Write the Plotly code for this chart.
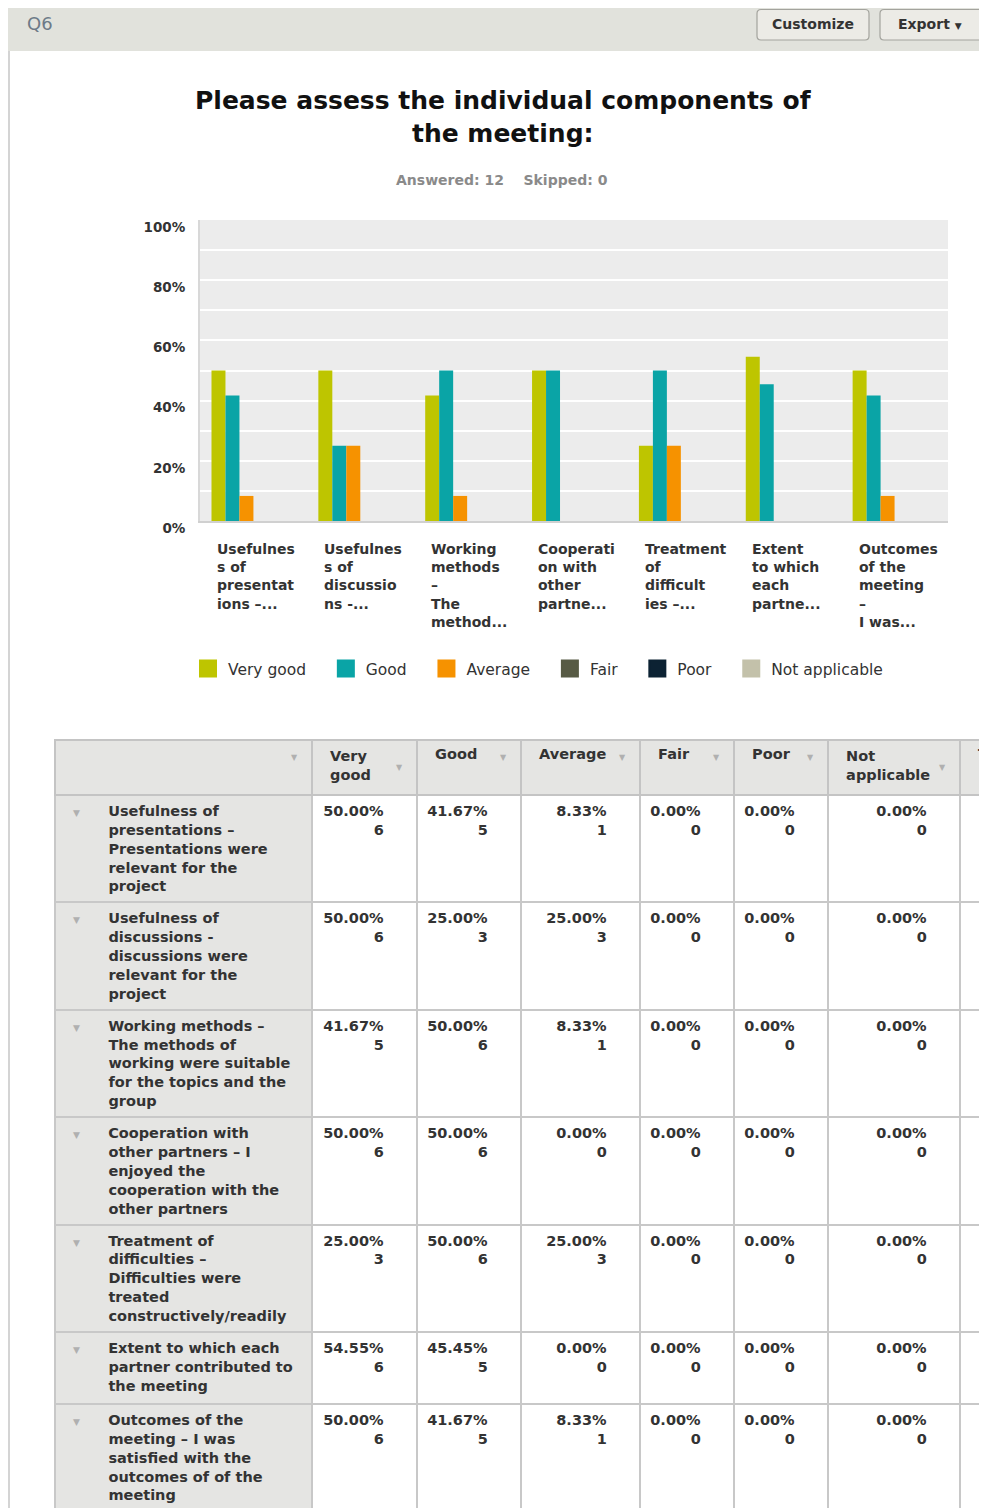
import plotly.graph_objects as go

W, H = 987, 1508
NB = "\u00a0"

# ---------------- data ----------------
categories = [
    "Usefulness of presentations",
    "Usefulness of discussions",
    "Working methods",
    "Cooperation with other partners",
    "Treatment of difficulties",
    "Extent to which each partner contributed",
    "Outcomes of the meeting",
]
category_ticktext = [
    "Usefulnes<br>s of<br>presentat<br>ions –...",
    "Usefulnes<br>s of<br>discussio<br>ns -...",
    "Working<br>methods<br>–<br>The<br>method...",
    "Cooperati<br>on with<br>other<br>partne...",
    "Treatment<br>of<br>difficult<br>ies –...",
    "Extent<br>to which<br>each<br>partne...",
    "Outcomes<br>of the<br>meeting<br>–<br>I was...",
]
series_names = ["Very good", "Good", "Average", "Fair", "Poor", "Not applicable"]

pct_very_good = [50.00, 50.00, 41.67, 50.00, 25.00, 54.55, 50.00]
pct_good = [41.67, 25.00, 50.00, 50.00, 50.00, 45.45, 41.67]
pct_average = [8.33, 25.00, 8.33, 0.00, 25.00, 0.00, 8.33]
pct_fair = [0.00, 0.00, 0.00, 0.00, 0.00, 0.00, 0.00]
pct_poor = [0.00, 0.00, 0.00, 0.00, 0.00, 0.00, 0.00]
pct_not_applicable = [0.00, 0.00, 0.00, 0.00, 0.00, 0.00, 0.00]

cnt_very_good = [6, 6, 5, 6, 3, 6, 6]
cnt_good = [5, 3, 6, 6, 6, 5, 5]
cnt_average = [1, 3, 1, 0, 3, 0, 1]
cnt_fair = [0, 0, 0, 0, 0, 0, 0]
cnt_poor = [0, 0, 0, 0, 0, 0, 0]
cnt_not_applicable = [0, 0, 0, 0, 0, 0, 0]

y_tickvals = [0, 0.2, 0.4, 0.6, 0.8, 1.0]
y_ticktext = ["0%", "20%", "40%", "60%", "80%", "100%"]

row_labels = [
    ["Usefulness of", "presentations –", "Presentations were", "relevant for the", "project"],
    ["Usefulness of", "discussions -", "discussions were", "relevant for the", "project"],
    ["Working methods –", "The methods of", "working were suitable", "for the topics and the", "group"],
    ["Cooperation with", "other partners – I", "enjoyed the", "cooperation with the", "other partners"],
    ["Treatment of", "difficulties –", "Difficulties were", "treated", "constructively/readily"],
    ["Extent to which each", "partner contributed to", "the meeting"],
    ["Outcomes of the", "meeting – I was", "satisfied with the", "outcomes of of the", "meeting"],
]
header_labels = [[""], ["Very", "good"], ["Good"], ["Average"], ["Fair"], ["Poor"], ["Not", "applicable"], ["Total"]]

answered_text = "Answered: 12"
skipped_text = "Skipped: 0"
title_text = "Please assess the individual components of<br>the meeting:"

# ---------------- styles ----------------
series_colors = ["#bec500", "#0aa4a6", "#f69200", "#575a44", "#0c2233", "#c3c1aa"]
FONT = "DejaVu Sans"
TXT = "#333333"

series_pct = [pct_very_good, pct_good, pct_average, pct_fair, pct_poor, pct_not_applicable]
series_cnt = [cnt_very_good, cnt_good, cnt_average, cnt_fair, cnt_poor, cnt_not_applicable]

# page offset of the figure inside the browser window (body margin)
OX, OY = 8, 8


def px_x(p):
    return (p - OX) / W


def px_y(p):
    return 1 - (p - OY) / H


fig = go.Figure()

for name, vals, color in zip(series_names, series_pct, series_colors):
    fig.add_trace(go.Bar(
        x=categories, y=[v / 100 for v in vals], name=name,
        marker=dict(color=color, line=dict(width=0)), showlegend=False,
    ))

# legend entries (larger square swatches)
for name, color in zip(series_names, series_colors):
    fig.add_trace(go.Scatter(
        x=[None], y=[None], mode="markers", name=name + NB * 3,
        marker=dict(symbol="square", size=16, color=color, line=dict(color=color, width=2)),
    ))

# ---------------- table ----------------
col_widths = [257, 105, 104, 119, 94, 94, 132, 27]
tbl_left, tbl_top = 55, 740

# glyph advance widths (em) for DejaVu Sans Bold, used to right-align lines
GW = {"0": 0.696, "1": 0.696, "2": 0.696, "3": 0.696, "4": 0.696, "5": 0.696,
      "6": 0.696, "7": 0.696, "8": 0.696, "9": 0.696, ".": 0.380, "%": 1.002}
NBW = 0.348


def txt_w(s):
    return sum(GW.get(ch, 0.6) for ch in s)


first_col = []
for lines in row_labels:
    first = (NB * 2 + "<span style='font-size:9px;color:#b0b0b0'>▼</span>"
             + NB * 5 + "\u2009" + lines[0])
    rest = [NB * 9 + ln for ln in lines[1:]]
    first_col.append("<br>".join([first] + rest))

pad_r = NB * 5
value_cols = []
for pcts, cnts in zip(series_pct, series_cnt):
    col = []
    for p, c in zip(pcts, cnts):
        ptxt, ctxt = f"{p:.2f}%", f"{c}"
        lead = NB * int(round((txt_w(ptxt) - txt_w(ctxt)) / NBW))
        col.append(f"{ptxt}{pad_r}<br>{lead}{ctxt}{pad_r}")
    value_cols.append(col)

header_vals = ["<br>".join(NB * 2 + ln for ln in h) for h in header_labels]
cell_vals = [first_col] + value_cols + [[""] * len(row_labels)]

GREY = "#e5e5e3"
fig.add_trace(go.Table(
    domain=dict(x=[px_x(tbl_left), px_x(tbl_left + sum(col_widths))], y=[0, px_y(tbl_top)]),
    columnwidth=col_widths,
    header=dict(
        values=header_vals, height=55, align="left",
        fill=dict(color=GREY), line=dict(color="#c4c4c4", width=2),
        font=dict(family=FONT, size=14.5, weight="bold", color=TXT),
    ),
    cells=dict(
        values=cell_vals, height=72,
        align=["left"] + ["right"] * 6 + ["left"],
        fill=dict(color=[GREY] + ["white"] * 7),
        line=dict(color="#c8c8c8", width=2),
        font=dict(family=FONT, size=14.5, weight="bold", color=TXT),
    ),
))

annotations = []
# sort arrows in header
x_acc = tbl_left
for w, h in zip(col_widths[:-1], header_labels[:-1]):
    x_acc += w
    yy = 767 if len(h) == 2 else 757
    annotations.append(dict(
        x=px_x(x_acc - 18), y=px_y(yy), xref="paper", yref="paper",
        text="▼", showarrow=False, xanchor="center", yanchor="middle",
        font=dict(family=FONT, size=8, color="#b0b0b0"),
    ))

# category labels (left-aligned, multi-line)
for cat, lab in zip(categories, category_ticktext):
    annotations.append(dict(
        x=cat, xref="x", y=px_y(539), yref="paper", text=lab, showarrow=False,
        xanchor="left", yanchor="top", align="left", xshift=-38,
        font=dict(family=FONT, size=14, weight="bold", color=TXT),
    ))

# title
annotations.append(dict(
    x=px_x(503), y=px_y(84), xref="paper", yref="paper", text=title_text,
    showarrow=False, xanchor="center", yanchor="top", align="center",
    font=dict(family=FONT, size=25, weight="bold", color="#111111"),
))
# answered / skipped
annotations.append(dict(
    x=px_x(502), y=px_y(180), xref="paper", yref="paper",
    text=answered_text + NB * 4 + skipped_text, showarrow=False,
    xanchor="center", yanchor="middle",
    font=dict(family=FONT, size=14, weight="bold", color="#8a8a8a"),
))
# header bar texts
annotations.append(dict(
    x=px_x(25), y=px_y(23), xref="paper", yref="paper", text="Q6", showarrow=False,
    xanchor="left", yanchor="middle", font=dict(family=FONT, size=18, color="#6d7a88"),
))
annotations.append(dict(
    x=px_x(813), y=px_y(24), xref="paper", yref="paper", text="Customize", showarrow=False,
    xanchor="center", yanchor="middle", font=dict(family=FONT, size=14, weight="bold", color="#333"),
))
annotations.append(dict(
    x=px_x(930), y=px_y(24), xref="paper", yref="paper",
    text="Export <span style='font-size:9px'>▼</span>", showarrow=False,
    xanchor="center", yanchor="middle", font=dict(family=FONT, size=14, weight="bold", color="#333"),
))


def rounded_rect(x0, y0, x1, y1, r):
    # screen-pixel rectangle with rounded corners, converted to paper coordinates
    X = px_x
    Y = px_y
    return (f"M {X(x0 + r)},{Y(y0)} L {X(x1 - r)},{Y(y0)} Q {X(x1)},{Y(y0)} {X(x1)},{Y(y0 + r)} "
            f"L {X(x1)},{Y(y1 - r)} Q {X(x1)},{Y(y1)} {X(x1 - r)},{Y(y1)} "
            f"L {X(x0 + r)},{Y(y1)} Q {X(x0)},{Y(y1)} {X(x0)},{Y(y1 - r)} "
            f"L {X(x0)},{Y(y0 + r)} Q {X(x0)},{Y(y0)} {X(x0 + r)},{Y(y0)} Z")


shapes = [
    dict(type="rect", xref="paper", yref="paper", x0=0, x1=1, y0=px_y(51), y1=1,
         fillcolor="#e1e2dc", line=dict(width=0), layer="below"),
    dict(type="line", xref="paper", yref="paper", x0=px_x(9), x1=px_x(9), y0=0, y1=px_y(51),
         line=dict(color="#d4d4d4", width=2)),
    dict(type="path", xref="paper", yref="paper", path=rounded_rect(757, 9.5, 869, 40, 4),
         fillcolor="#ecebe6", line=dict(color="#a3a39d", width=1.2)),
    dict(type="path", xref="paper", yref="paper", path=rounded_rect(880, 9.5, 983, 40, 4),
         fillcolor="#ecebe6", line=dict(color="#a3a39d", width=1.2)),
]

fig.update_layout(
    width=W, height=H, autosize=False,
    margin=dict(l=0, r=0, t=0, b=0, autoexpand=False),
    paper_bgcolor="white", plot_bgcolor="#ececec",
    barmode="group", bargap=0.215, bargroupgap=0,
    xaxis=dict(domain=[px_x(200), px_x(948)], categoryorder="array", categoryarray=categories,
               showticklabels=False, ticks="", showgrid=False, showline=True,
               linecolor="#d0d0d0", linewidth=2, fixedrange=True, automargin=False),
    yaxis=dict(domain=[px_y(521), px_y(220)], range=[0, 1], tickvals=y_tickvals, ticktext=y_ticktext,
               showgrid=True, gridcolor="white", gridwidth=2,
               minor=dict(dtick=0.1, showgrid=True, gridcolor="white", gridwidth=2),
               showline=True, linecolor="#d8d8d8", linewidth=2, zeroline=False, ticks="",
               ticklabelstandoff=10, ticklabelshift=7, automargin=False,
               tickfont=dict(family=FONT, size=13.5, weight="bold", color=TXT), fixedrange=True),
    legend=dict(orientation="h", x=px_x(188), xanchor="left", y=px_y(669), yanchor="middle",
                font=dict(family=FONT, size=15.5, color=TXT), bgcolor="rgba(0,0,0,0)"),
    annotations=annotations, shapes=shapes,
    showlegend=True,
)

fig.write_html("out.html")
